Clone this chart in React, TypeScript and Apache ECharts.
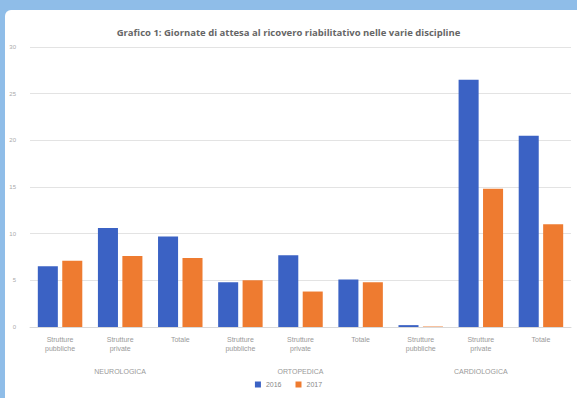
import React, { useEffect, useRef } from "react";
import * as echarts from "echarts";

const categories = [
  "Strutture\npubbliche",
  "Strutture\nprivate",
  "Totale",
  "Strutture\npubbliche",
  "Strutture\nprivate",
  "Totale",
  "Strutture\npubbliche",
  "Strutture\nprivate",
  "Totale",
];
const groups = ["NEUROLOGICA", "ORTOPEDICA", "CARDIOLOGICA"];
const seriesNames = ["2016", "2017"];
const values2016 = [6.5, 10.6, 9.7, 4.8, 7.7, 5.1, 0.2, 26.5, 20.5];
const values2017 = [7.1, 7.6, 7.4, 5.0, 3.8, 4.8, 0.05, 14.8, 11.0];
const yTicks = [0, 5, 10, 15, 20, 25, 30];

export default function App() {
  const ref = useRef<HTMLDivElement>(null);
  useEffect(() => {
    if (!ref.current) return;
    const chart = echarts.init(ref.current, undefined, { renderer: "svg" });
    chart.setOption({
      animation: false,
      backgroundColor: "transparent",
      title: {
        text: "Grafico 1: Giornate di attesa al ricovero riabilitativo nelle varie discipline",
        left: "center",
        top: 22,
        textStyle: { fontSize: 9.5, fontWeight: "bold", color: "#666", fontFamily: "Open Sans" },
      },
      legend: {
        bottom: 5,
        left: "center",
        itemWidth: 6,
        itemHeight: 6,
        itemGap: 14,
        icon: "rect",
        textStyle: { fontSize: 7, color: "#888" },
        data: seriesNames,
      },
      grid: { left: 30, right: 6, top: 47, bottom: 71 },
      xAxis: [
        {
          type: "category",
          data: categories,
          axisLine: { lineStyle: { color: "#d9d9d9" } },
          axisTick: { show: false },
          axisLabel: { fontSize: 7, color: "#999", lineHeight: 9, margin: 8, interval: 0 },
        },
        {
          type: "category",
          data: groups,
          position: "bottom",
          offset: 33,
          axisLine: { show: false },
          axisTick: { show: false },
          axisLabel: { fontSize: 7, color: "#999", interval: 0 },
        },
      ],
      yAxis: {
        type: "value",
        min: yTicks[0],
        max: yTicks[yTicks.length - 1],
        interval: 5,
        axisLine: { show: false },
        axisTick: { show: false },
        axisLabel: { fontSize: 6, color: "#aaa", margin: 14 },
        splitLine: { lineStyle: { color: "#e3e3e3" } },
      },
      series: [
        {
          name: seriesNames[0],
          type: "bar",
          data: values2016,
          itemStyle: { color: "#3b62c4" },
          barGap: "22%",
          barCategoryGap: "26%",
        },
        {
          name: seriesNames[1],
          type: "bar",
          data: values2017,
          itemStyle: { color: "#ee7b30" },
        },
      ],
    });
    return () => chart.dispose();
  }, []);
  return (
    <div
      style={{
        position: "fixed",
        left: 0,
        top: 0,
        width: 577,
        height: 398,
        background: "#8fbde8",
        overflow: "hidden",
      }}
    >
      <div
        style={{
          position: "absolute",
          left: 5,
          top: 10,
          width: 572,
          height: 388,
          background: "#fff",
          borderTopLeftRadius: 6,
        }}
      />
      <div ref={ref} style={{ position: "absolute", left: 0, top: 0, width: 577, height: 398 }} />
    </div>
  );
}
